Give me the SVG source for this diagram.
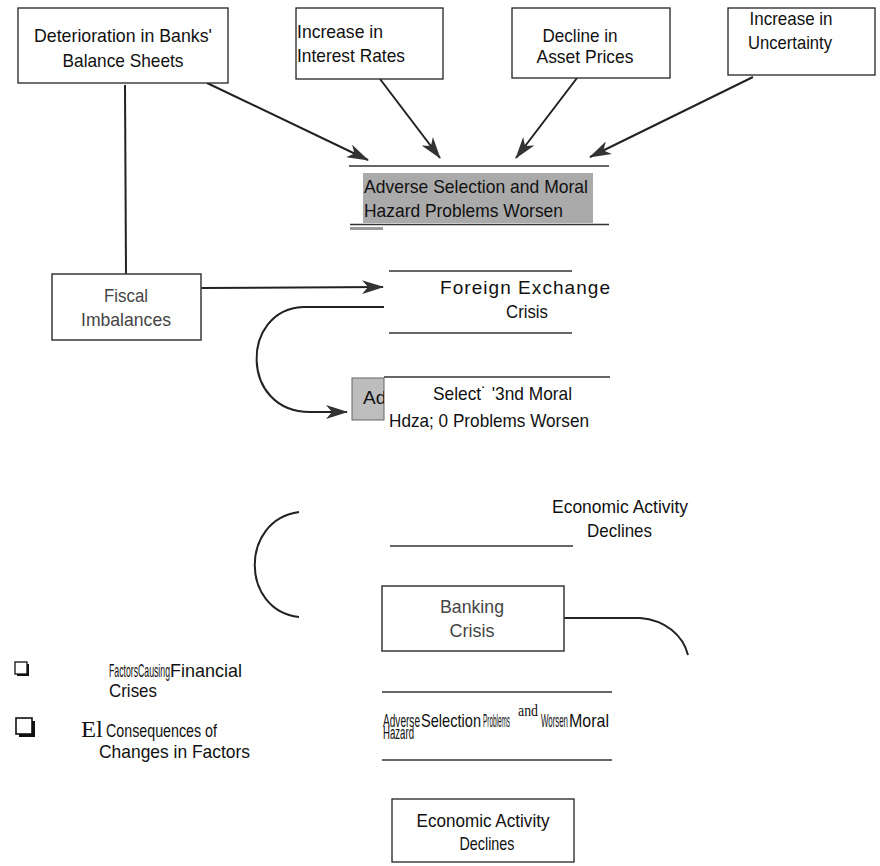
<svg xmlns="http://www.w3.org/2000/svg" width="880" height="866" viewBox="0 0 880 866">
<style>
  .box { fill: #fff; stroke: #222; stroke-width: 1.3; }
  .sbox { fill: #fff; stroke: #444; stroke-width: 1.6; }
  .t { font-family: "Liberation Sans", Arial, sans-serif; font-size: 19px; fill: #111; }
  .g { fill: #444; }
  .c { text-anchor: middle; }
  .conn { fill: none; stroke: #222; stroke-width: 2; }
  .rule { stroke: #333; stroke-width: 1.4; }
</style>
<defs>
  <marker id="arr" markerUnits="userSpaceOnUse" viewBox="0 0 22 14" markerWidth="22" markerHeight="14" refX="21" refY="7" orient="auto">
    <path d="M0,0 L22,7 L0,14 L6,7 Z" fill="#333"/>
  </marker>
  <clipPath id="adclip"><rect x="352" y="378" width="32" height="42"/></clipPath>
</defs>
<rect width="880" height="866" fill="#fff"/>

<g id="connectors">
  <path class="conn" d="M207,83 L368,160" marker-end="url(#arr)"/>
  <path class="conn" d="M380,79 L440,158" marker-end="url(#arr)"/>
  <path class="conn" d="M577,78 L516,158" marker-end="url(#arr)"/>
  <path class="conn" d="M753,77 L590,157" marker-end="url(#arr)"/>
  <path class="conn" d="M125,85 L126,274"/>
  <path class="conn" d="M201,288 L383,287" marker-end="url(#arr)"/>
  <path class="conn" d="M384,307 L303,307 C240,310 240,412 310,412 L347,412" marker-end="url(#arr)"/>
  <path class="conn" d="M299,512 C240,520 240,610 299,617"/>
  <path class="conn" d="M564,618 L640,618 C665,620 683,635 688,655"/>
</g>

<g id="node-banks">
  <rect class="box" x="18" y="8" width="210" height="75"/>
  <text class="t c" x="123" y="42" textLength="178" lengthAdjust="spacingAndGlyphs">Deterioration in Banks'</text>
  <text class="t c" x="123" y="67" textLength="121" lengthAdjust="spacingAndGlyphs">Balance Sheets</text>
</g>

<g id="node-interest">
  <rect class="box" x="296" y="8" width="147" height="71"/>
  <text class="t" x="297" y="38" textLength="86" lengthAdjust="spacingAndGlyphs">Increase in</text>
  <text class="t" x="297" y="62" textLength="108" lengthAdjust="spacingAndGlyphs">Interest Rates</text>
</g>

<g id="node-asset">
  <rect class="box" x="512" y="8" width="158" height="70"/>
  <text class="t c" x="580" y="42" textLength="75" lengthAdjust="spacingAndGlyphs">Decline in</text>
  <text class="t c" x="585" y="63" textLength="97" lengthAdjust="spacingAndGlyphs">Asset Prices</text>
</g>

<g id="node-uncertainty">
  <rect class="box" x="728" y="8" width="147" height="67"/>
  <text class="t c" x="791" y="25" textLength="83" lengthAdjust="spacingAndGlyphs">Increase in</text>
  <text class="t c" x="790" y="49" textLength="84" lengthAdjust="spacingAndGlyphs">Uncertainty</text>
</g>

<g id="node-adverse-1">
  <line class="rule" x1="349" y1="166" x2="609" y2="166" stroke="#555"/>
  <rect x="363" y="173" width="230" height="50" fill="#aaa"/>
  <text class="t" x="364" y="193" font-size="20" textLength="224" lengthAdjust="spacingAndGlyphs">Adverse Selection and Moral</text>
  <text class="t" x="364" y="217" font-size="20" textLength="199" lengthAdjust="spacingAndGlyphs">Hazard Problems Worsen</text>
  <line class="rule" x1="350" y1="224.5" x2="609" y2="224.5"/>
  <rect x="350" y="227" width="33" height="3" fill="#999"/>
</g>

<g id="node-fiscal">
  <rect class="sbox" x="52" y="274" width="149" height="66"/>
  <text class="t g c" x="126" y="302" textLength="44" lengthAdjust="spacingAndGlyphs">Fiscal</text>
  <text class="t g c" x="126" y="326" textLength="90" lengthAdjust="spacingAndGlyphs">Imbalances</text>
</g>

<g id="node-forex">
  <line class="rule" x1="389" y1="271" x2="572" y2="271"/>
  <text class="t" x="440" y="294" font-size="18" fill="#222" textLength="170" lengthAdjust="spacing">Foreign Exchange</text>
  <text class="t" x="506" y="318" fill="#222" textLength="42" lengthAdjust="spacingAndGlyphs">Crisis</text>
  <line class="rule" x1="389" y1="333" x2="572" y2="333"/>
</g>

<g id="node-adverse-2">
  <rect x="352" y="378" width="32" height="42" fill="#bdbdbd" stroke="#666" stroke-width="1"/>
  <text class="t" x="363" y="404" font-size="20" fill="#333" clip-path="url(#adclip)">Ad</text>
  <line class="rule" x1="384" y1="377" x2="610" y2="377"/>
  <text class="t" x="433" y="400" textLength="139" lengthAdjust="spacingAndGlyphs">Select˙ '3nd Moral</text>
  <text class="t" x="389" y="427" textLength="200" lengthAdjust="spacingAndGlyphs">Hdza; 0 Problems Worsen</text>
</g>

<g id="node-econ-1">
  <text class="t" x="552" y="513" textLength="136" lengthAdjust="spacingAndGlyphs">Economic Activity</text>
  <text class="t" x="587" y="537" textLength="65" lengthAdjust="spacingAndGlyphs">Declines</text>
  <line class="rule" x1="390" y1="546" x2="573" y2="546" stroke="#555"/>
</g>

<g id="node-banking">
  <rect class="sbox" x="382" y="586" width="182" height="65"/>
  <text class="t g c" x="472" y="613" textLength="64" lengthAdjust="spacingAndGlyphs">Banking</text>
  <text class="t g c" x="472" y="637" textLength="45" lengthAdjust="spacingAndGlyphs">Crisis</text>
</g>

<g id="node-adverse-3">
  <line class="rule" x1="382" y1="692" x2="612" y2="692"/>
  <text class="t" x="383" y="739" font-size="18" textLength="31" lengthAdjust="spacingAndGlyphs">Hazard</text>
  <text class="t" x="383" y="727" font-size="20" textLength="37" lengthAdjust="spacingAndGlyphs">Adverse</text>
  <text class="t" x="421" y="727" font-size="20" textLength="60" lengthAdjust="spacingAndGlyphs">Selection</text>
  <text class="t" x="483" y="727" font-size="12" textLength="27" lengthAdjust="spacingAndGlyphs">Problems</text>
  <text x="518" y="716" font-family="Liberation Serif, serif" font-size="16" fill="#111" textLength="20" lengthAdjust="spacingAndGlyphs">and</text>
  <text class="t" x="541" y="727" font-size="12" textLength="27" lengthAdjust="spacingAndGlyphs">Worsen</text>
  <text class="t" x="569" y="727" font-size="20" textLength="40" lengthAdjust="spacingAndGlyphs">Moral</text>
  <line class="rule" x1="382" y1="760" x2="612" y2="760" stroke="#555"/>
</g>

<g id="node-econ-2">
  <rect class="box" x="392" y="799" width="182" height="63"/>
  <text class="t c" x="483" y="827" textLength="133" lengthAdjust="spacingAndGlyphs">Economic Activity</text>
  <text class="t c" x="487" y="850" textLength="55" lengthAdjust="spacingAndGlyphs">Declines</text>
</g>

<g id="legend">
  <rect x="17" y="664" width="12" height="12" fill="#111"/>
  <rect x="15" y="662" width="12" height="12" fill="#fff" stroke="#111" stroke-width="1.3"/>
  <text class="t" x="109" y="677" textLength="61" lengthAdjust="spacingAndGlyphs">FactorsCausing</text>
  <text class="t" x="170" y="677" textLength="72" lengthAdjust="spacingAndGlyphs">Financial</text>
  <text class="t" x="109" y="697" textLength="48" lengthAdjust="spacingAndGlyphs">Crises</text>
  <rect x="19" y="721" width="16" height="16" fill="#111"/>
  <rect x="16" y="718" width="16" height="16" fill="#fff" stroke="#111" stroke-width="1.6"/>
  <text x="81" y="737" font-family="Liberation Serif, serif" font-size="24" fill="#111" textLength="22" lengthAdjust="spacingAndGlyphs">El</text>
  <text class="t" x="106" y="737" textLength="111" lengthAdjust="spacingAndGlyphs">Consequences of</text>
  <text class="t" x="99" y="758" textLength="151" lengthAdjust="spacingAndGlyphs">Changes in Factors</text>
</g>
</svg>
